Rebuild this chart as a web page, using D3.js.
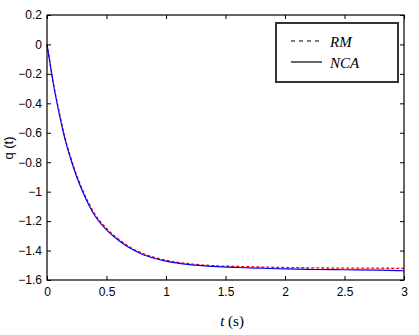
<!DOCTYPE html>
<html>
<head>
<meta charset="utf-8">
<script src="https://cdn.jsdelivr.net/npm/d3@7"></script>
<style>
  html, body { margin: 0; padding: 0; background: #fff; }
  svg { display: block; }
  .tick text { font-family: "Liberation Sans", Arial, sans-serif; font-size: 12px; fill: #000; }
</style>
</head>
<body>
<svg id="chart" width="419" height="335"></svg>
<script>
// Time samples (s)
const timeValues = [0, 0.02, 0.05, 0.1, 0.15, 0.2, 0.25, 0.3, 0.4, 0.5, 0.6, 0.7, 0.8, 0.9, 1.0,
                    1.2, 1.4, 1.6, 1.8, 2.0, 2.2, 2.4, 2.6, 2.8, 3.0];
// NCA response q(t)
const ncaValues = [0, -0.10, -0.25, -0.46, -0.64, -0.78, -0.90, -1.00, -1.16, -1.26, -1.33, -1.385,
                   -1.425, -1.452, -1.472, -1.496, -1.508, -1.515, -1.52, -1.525, -1.528, -1.53,
                   -1.531, -1.533, -1.537];
// RM response q(t)
const rmValues = [0, -0.10, -0.25, -0.45, -0.63, -0.77, -0.89, -0.99, -1.15, -1.25, -1.322, -1.378,
                  -1.418, -1.446, -1.466, -1.49, -1.503, -1.508, -1.512, -1.515, -1.517, -1.519,
                  -1.52, -1.52, -1.521];

const xTicks = [0, 0.5, 1, 1.5, 2, 2.5, 3];
const yTicks = [0.2, 0, -0.2, -0.4, -0.6, -0.8, -1, -1.2, -1.4, -1.6];
const seriesNames = ["RM", "NCA"];

const svg = d3.select("#chart");
const plotL = 47, plotR = 404, plotT = 15, plotB = 280;

const x = d3.scaleLinear().domain([0, 3]).range([plotL, plotR]);
const y = d3.scaleLinear().domain([-1.6, 0.2]).range([plotB, plotT]);

// Curves
const line = d3.line()
  .x((d, i) => x(timeValues[i]))
  .y(d => y(d))
  .curve(d3.curveMonotoneX);

svg.append("path")
  .datum(rmValues)
  .attr("d", line)
  .attr("fill", "none")
  .attr("stroke", "#ff0000")
  .attr("stroke-width", 1.3)
  .attr("stroke-dasharray", "3,2");

svg.append("path")
  .datum(ncaValues)
  .attr("d", line)
  .attr("fill", "none")
  .attr("stroke", "#0000ff")
  .attr("stroke-width", 1.2);

// Axes with inward ticks on all four sides
const tickFmt = d => d3.format("")(+d.toFixed(2));
const axB = svg.append("g").attr("transform", `translate(0,${plotB})`)
  .call(d3.axisBottom(x).tickValues(xTicks).tickSize(-4).tickPadding(7).tickFormat(tickFmt));
const axT = svg.append("g").attr("transform", `translate(0,${plotT})`)
  .call(d3.axisTop(x).tickValues(xTicks).tickSize(-4).tickFormat(""));
const axL = svg.append("g").attr("transform", `translate(${plotL},0)`)
  .call(d3.axisLeft(y).tickValues(yTicks).tickSize(-4).tickPadding(5).tickFormat(tickFmt));
const axR = svg.append("g").attr("transform", `translate(${plotR},0)`)
  .call(d3.axisRight(y).tickValues(yTicks).tickSize(-4).tickFormat(""));
[axB, axT, axL, axR].forEach(a => {
  a.select(".domain").remove();
  a.selectAll(".tick line").attr("stroke", "#000");
});

svg.append("rect")
  .attr("x", plotL).attr("y", plotT)
  .attr("width", plotR - plotL).attr("height", plotB - plotT)
  .attr("fill", "none").attr("stroke", "#000").attr("stroke-width", 1.2);

// Axis titles
const xt = svg.append("text")
  .attr("x", 232).attr("y", 326)
  .attr("text-anchor", "middle")
  .attr("font-family", "Liberation Serif, Times New Roman, serif")
  .attr("font-size", 15);
xt.append("tspan").attr("font-style", "italic").text("t");
xt.append("tspan").text(" (s)");

svg.append("text")
  .attr("transform", "translate(13,148) rotate(-90)")
  .attr("text-anchor", "middle")
  .attr("font-family", "Liberation Sans, Arial, sans-serif")
  .attr("font-size", 13)
  .text("q (t)");

// Legend
const lg = svg.append("g");
lg.append("rect")
  .attr("x", 276).attr("y", 23).attr("width", 122).attr("height", 59)
  .attr("fill", "#fff").attr("stroke", "#333").attr("stroke-width", 2);
const legendStyles = [
  { dash: "4,4", y: 41 },
  { dash: null, y: 62 }
];
seriesNames.forEach((name, i) => {
  const s = legendStyles[i];
  const l = lg.append("line")
    .attr("x1", 291).attr("x2", 322)
    .attr("y1", s.y).attr("y2", s.y)
    .attr("stroke", "#000").attr("stroke-width", 1.2);
  if (s.dash) l.attr("stroke-dasharray", s.dash);
  lg.append("text")
    .attr("x", 330).attr("y", s.y + 6)
    .attr("font-family", "Liberation Serif, Times New Roman, serif")
    .attr("font-style", "italic")
    .attr("font-size", 15)
    .attr("fill", "#000")
    .text(name);
});
</script>
</body>
</html>
